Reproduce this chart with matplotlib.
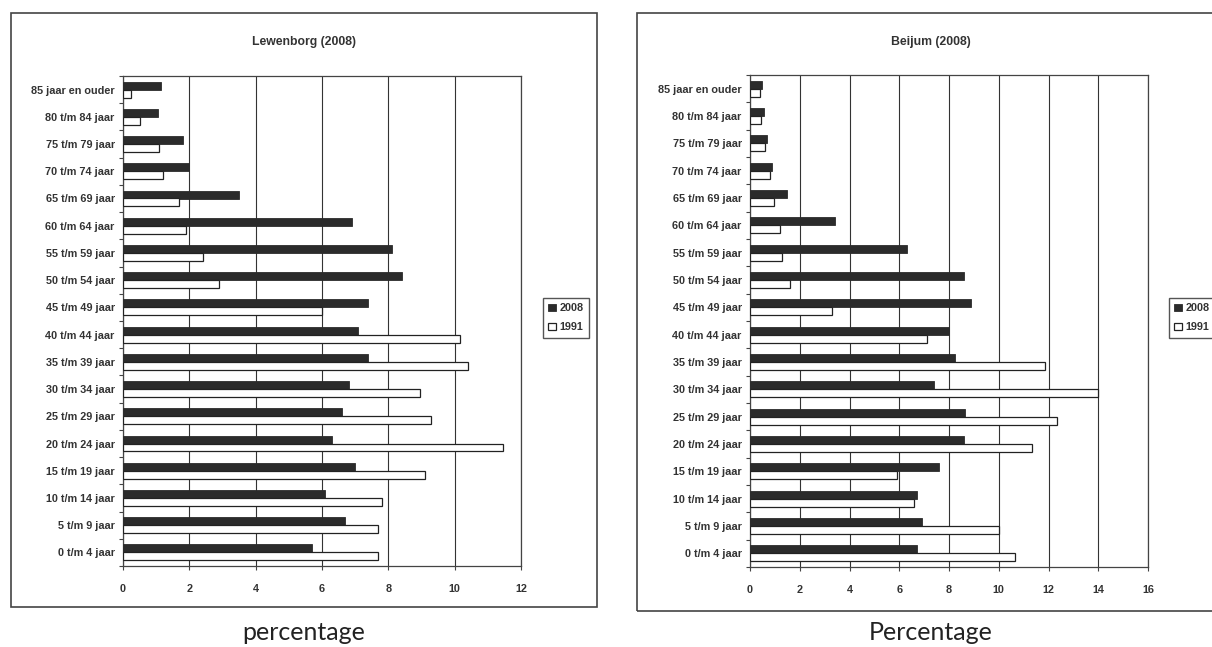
import numpy as np
import matplotlib
matplotlib.use("Agg")
import matplotlib.pyplot as plt
from matplotlib.patches import Rectangle

# =============================================================================
# DATA
# =============================================================================

ages = [
    "0 t/m 4 jaar", "5 t/m 9 jaar", "10 t/m 14 jaar", "15 t/m 19 jaar",
    "20 t/m 24 jaar", "25 t/m 29 jaar", "30 t/m 34 jaar", "35 t/m 39 jaar",
    "40 t/m 44 jaar", "45 t/m 49 jaar", "50 t/m 54 jaar", "55 t/m 59 jaar",
    "60 t/m 64 jaar", "65 t/m 69 jaar", "70 t/m 74 jaar", "75 t/m 79 jaar",
    "80 t/m 84 jaar", "85 jaar en ouder",
]

lewenborg_2008 = [5.7, 6.7, 6.1, 7.0, 6.3, 6.6, 6.8, 7.4, 7.1, 7.4,
                  8.4, 8.1, 6.9, 3.5, 2.0, 1.8, 1.05, 1.15]
lewenborg_1991 = [7.7, 7.7, 7.8, 9.1, 11.45, 9.3, 8.95, 10.4, 10.15, 6.0,
                  2.9, 2.4, 1.9, 1.7, 1.2, 1.1, 0.5, 0.25]

beijum_2008 = [6.7, 6.9, 6.7, 7.6, 8.6, 8.65, 7.4, 8.25, 8.0, 8.9,
               8.6, 6.3, 3.4, 1.5, 0.9, 0.7, 0.55, 0.5]
beijum_1991 = [10.65, 10.0, 6.6, 5.9, 11.35, 12.35, 14.0, 11.85, 7.1, 3.3,
               1.6, 1.3, 1.2, 0.95, 0.8, 0.6, 0.45, 0.4]

series_labels = ["2008", "1991"]

# =============================================================================
# STYLE
# =============================================================================

W, H = 1212, 647
DARK = "#2b2b2b"
TXT = "#333333"
plt.rcParams["font.family"] = ["Liberation Sans", "DejaVu Sans"]


def px(left, top, right, bottom):
    """pixel box -> figure fraction [x, y, w, h]"""
    return [left / W, 1 - bottom / H, (right - left) / W, (bottom - top) / H]


def panel(fig, box, axbox, title, title_x, new, old, xmax, legend_xy, xlabel):
    # outer frame of the chart
    l, t, r, b = box
    fig.patches.append(
        Rectangle((l / W, 1 - b / H), (r - l) / W, (b - t) / H,
                  transform=fig.transFigure, fill=False,
                  edgecolor="#444444", linewidth=1.2)
    )
    fig.text(title_x / W, 1 - 42 / H, title, ha="center", va="center",
             fontsize=8.8, fontweight="bold", color=TXT)

    ax = fig.add_axes(px(*axbox))
    y = np.arange(len(ages))
    h = 0.29
    ax.barh(y + h / 2, new, height=h, color=DARK, edgecolor=DARK,
            linewidth=0.6, label=series_labels[0], zorder=3)
    ax.barh(y - h / 2, old, height=h, color="white", edgecolor="#222222",
            linewidth=0.9, label=series_labels[1], zorder=3)

    ax.set_xlim(0, xmax)
    ax.set_ylim(-0.5, len(ages) - 0.5)
    ax.set_xticks(np.arange(0, xmax + 1, 2))
    ax.set_yticks(y)
    ax.set_yticklabels(ages)
    ax.set_yticks(np.arange(-0.5, len(ages), 1.0), minor=True)
    ax.grid(axis="x", color="#333333", linewidth=0.8, zorder=0)
    ax.tick_params(axis="y", which="major", length=0, pad=6,
                   labelsize=7.8, labelcolor=TXT)
    ax.tick_params(axis="y", which="minor", length=3, width=0.8,
                   color="#444444")
    ax.tick_params(axis="x", length=3, width=0.8, pad=10, labelsize=7.8,
                   labelcolor=TXT, color="#444444")
    for lab in ax.get_xticklabels() + ax.get_yticklabels():
        lab.set_fontweight("bold")
    for sp in ax.spines.values():
        sp.set_color("#444444")
        sp.set_linewidth(0.9)

    leg = ax.legend(loc="upper left", bbox_to_anchor=legend_xy,
                    bbox_transform=fig.transFigure,
                    prop={"size": 7.8, "weight": "bold"},
                    frameon=True, fancybox=False, edgecolor="#555555",
                    framealpha=1, handlelength=0.7, handleheight=0.7,
                    handletextpad=0.3, borderpad=0.5, labelspacing=0.8,
                    borderaxespad=0)
    leg.get_frame().set_linewidth(1.0)
    for t_ in leg.get_texts():
        t_.set_color(TXT)

    fig.text(title_x / W, 1 - 633 / H, xlabel, ha="center", va="center",
             fontsize=18, color="#222222", family=["Lato", "DejaVu Sans"])
    return ax


fig = plt.figure(figsize=(W / 100, H / 100), dpi=100)
fig.patch.set_facecolor("white")

panel(fig, (11, 13, 597, 607), (123, 76, 521, 566), "Lewenborg (2008)",
      304, lewenborg_2008, lewenborg_1991, 12,
      (543 / W, 1 - 298 / H), "percentage")
panel(fig, (637, 13, 1230, 611), (750, 75, 1148, 567), "Beijum (2008)",
      931, beijum_2008, beijum_1991, 16,
      (1169 / W, 1 - 298 / H), "Percentage")

fig.savefig("out.png", dpi=100)
